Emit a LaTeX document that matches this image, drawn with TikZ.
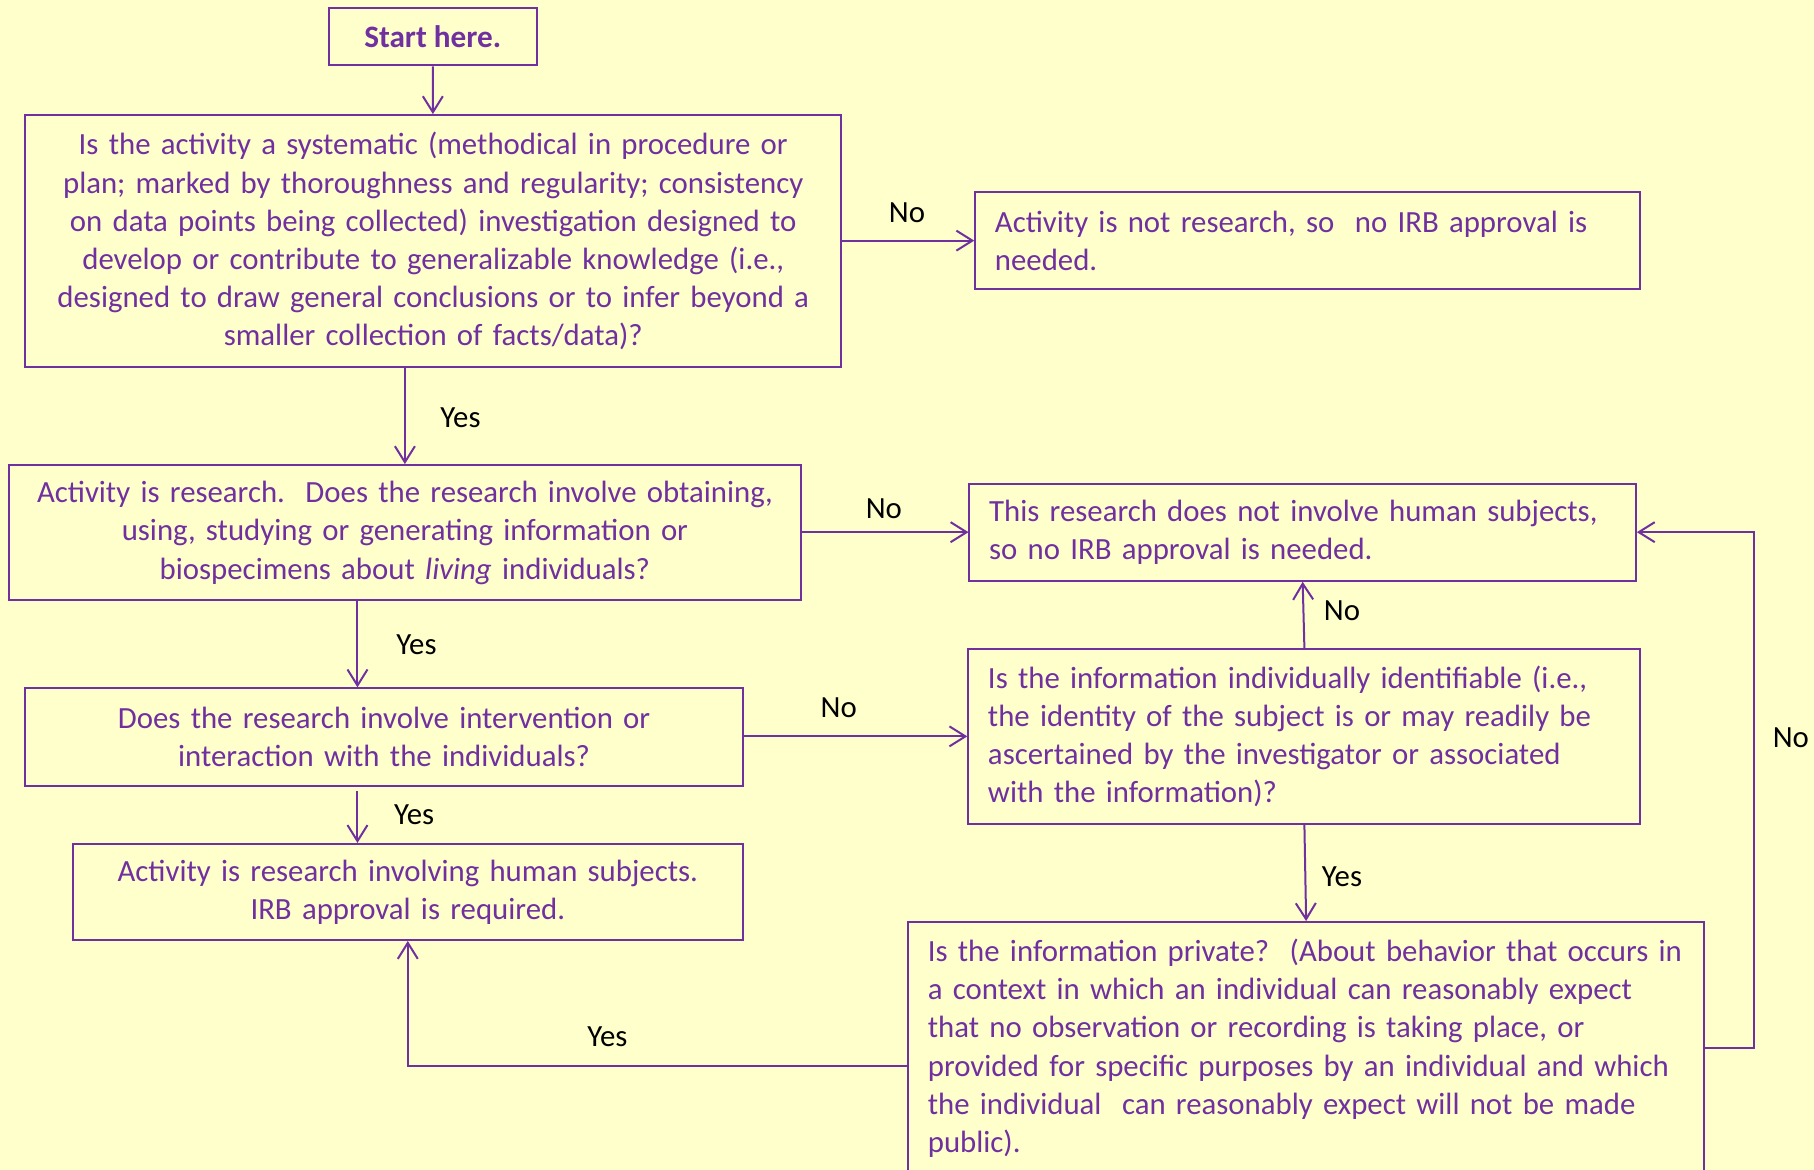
\documentclass[tikz,border=0pt]{standalone}
\usepackage{fontspec}
\setmainfont{Carlito}
\usetikzlibrary{arrows.meta,calc}
\definecolor{purp}{HTML}{7030A0}
\definecolor{bg}{HTML}{FFFFCC}
\newcommand\myscale{0.57845}
\newcommand\txtfont{\fontsize{15.4}{19.1}\selectfont}
\tikzset{
  box/.style 2 args={draw=purp, line width=1pt, text=purp, inner sep=0pt,
    minimum width=#1*\myscale pt, minimum height=#2*\myscale pt,
    font=\txtfont},
  cbox/.style 2 args={box={#1}{#2}, align=center, text width=#1*\myscale pt-20pt},
  lbox/.style 2 args={box={#1}{#2}, align=left, text width=#1*\myscale pt-2*17*\myscale pt},
  arr/.style={draw=purp, line width=1pt, -{Straight Barb[length=8pt,width=10pt,line width=1pt]}},
  lab/.style={text=black, inner sep=0pt, font=\txtfont},
}
\begin{document}
\begin{tikzpicture}[x=0.57845pt,y=-0.57845pt]
\fill[bg] (0,0) rectangle (1568,1011);
\useasboundingbox (0,0) rectangle (1568,1011);
\clip (0,0) rectangle (1568,1011);

\node[box={180}{50}, font=\fontsize{15.6}{19.1}\selectfont\bfseries] (start) at (374,31.5) {Start here.};
\node[cbox={705}{218}] (b1) at (374.5,208.5) {Is the activity a systematic (methodical in procedure or\\plan; marked by thoroughness and regularity; consistency\\on data points being collected) investigation designed to\\develop or contribute to generalizable knowledge (i.e.,\\designed to draw general conclusions or to infer beyond a\\smaller collection of facts/data)?};
\node[lbox={575}{84}] (nores) at (1130.5,208) {Activity is not research, so\ \ no IRB approval is\\needed.};
\node[cbox={684}{117}] (b2) at (350,460.5) {Activity is research.\ \ Does the research involve obtaining,\\using, studying or generating information or\\biospecimens about \textit{living} individuals?};
\node[lbox={576}{84}] (nohs) at (1126,460) {This research does not involve human subjects,\\so no IRB approval is needed.};
\node[cbox={620}{84}] (b3) at (332,637) {Does the research involve intervention or\\interaction with the individuals?};
\node[lbox={581}{151}] (id) at (1127.5,636.5) {Is the information individually identifiable (i.e.,\\the identity of the subject is or may readily be\\ascertained by the investigator or associated\\with the information)?};
\node[cbox={579}{83}] (hs) at (352.5,771) {Activity is research involving human subjects.\\IRB approval is required.};
\node[lbox={688}{218}] (priv) at (1129,906) {\mbox{Is the information private?\ \ (About behavior that occurs in}\\a context in which an individual can reasonably expect\\that no observation or recording is taking place, or\\provided for specific purposes by an individual and which\\the individual\ \ can reasonably expect will not be made\\public).};

\coordinate (x12) at (350,0);
\coordinate (x23) at (309,0);

\draw[arr] (start) -- (b1);
\draw[arr] (b1.east |- nores.west) -- (nores.west);
\draw[arr] (x12 |- b1.south) -- (b2.north);
\draw[arr] (b2.east |- nohs.west) -- (nohs.west);
\draw[arr] (x23 |- b2.south) -- (x23 |- b3.north);
\draw[arr] (b3.east |- id.west) -- (id.west);
\draw[arr] ($(x23 |- b3.south)+(0,4)$) -- (x23 |- hs.north);
\draw[arr] (id.north) -- (nohs.south);
\draw[arr] (id.south) -- (priv.north);
\draw[arr] ($(priv.west)+(0,15)$) -| (hs.south);
\draw[arr] (priv.east) -- ++(42,0) |- (nohs.east);

\node[lab] (l1) at (784,184) {No};
\node[lab] (l2) at (398,361) {Yes};
\node[lab] (l3) at (764,440) {No};
\node[lab] (l4) at (360,557) {Yes};
\node[lab] (l5) at (725,612) {No};
\node[lab] (l6) at (1160,528) {No};
\node[lab] (l7) at (358,704) {Yes};
\node[lab] (l8) at (1160,758) {Yes};
\node[lab] (l9) at (525,896) {Yes};
\node[lab] (l10) at (1548,638) {No};
\end{tikzpicture}
\end{document}
